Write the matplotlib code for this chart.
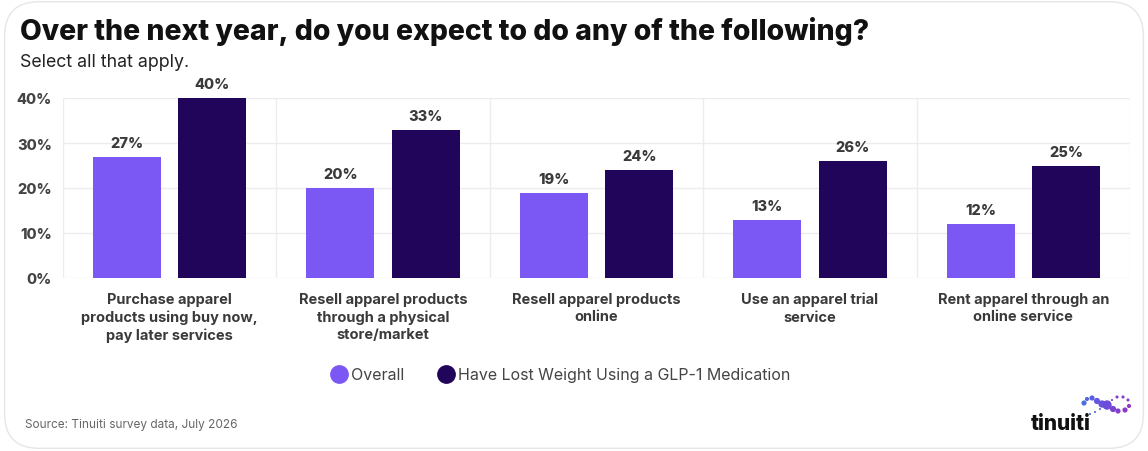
import matplotlib
matplotlib.use("Agg")
import matplotlib.pyplot as plt
import numpy as np
from matplotlib.patches import FancyBboxPatch
from matplotlib.lines import Line2D

categories = [
    "Purchase apparel\nproducts using buy now,\npay later services",
    "Resell apparel products\nthrough a physical\nstore/market",
    "Resell apparel products\nonline",
    "Use an apparel trial\nservice",
    "Rent apparel through an\nonline service",
]
overall = [27, 20, 19, 13, 12]
glp1 = [40, 33, 24, 26, 25]
series_names = ["Overall", "Have Lost Weight Using a GLP-1 Medication"]
yticks = [0, 10, 20, 30, 40]
ytick_labels = ["0%", "10%", "20%", "30%", "40%"]

C_OVERALL = "#7B57F4"
C_GLP = "#21055A"
TXT = "#3a3a3a"

plt.rcParams["font.family"] = ["Inter", "DejaVu Sans"]

W, H = 1148, 452
fig = plt.figure(figsize=(W / 100, H / 100), dpi=100)

# rounded light border
border = FancyBboxPatch((0.004, 0.006), 0.992, 0.988, boxstyle="round,pad=0,rounding_size=0.03",
                        transform=fig.transFigure, facecolor="none", edgecolor="#e6e6e6",
                        linewidth=1.0, mutation_aspect=W / H, zorder=-5)
fig.patches.append(border)

def fx(px):
    return px / W

def fy(py):
    return 1 - py / H

ax = fig.add_axes([fx(63), fy(279), fx(1130) - fx(63), fy(99) - fy(279)])
ax.set_facecolor("none")
x = np.arange(len(categories))
w = 0.318
off = 0.2
b1 = ax.bar(x - off, overall, width=w, color=C_OVERALL, zorder=3)
b2 = ax.bar(x + off, glp1, width=w, color=C_GLP, zorder=3)

for bars, vals in ((b1, overall), (b2, glp1)):
    for b, v in zip(bars, vals):
        ax.annotate(f"{v}%", (b.get_x() + b.get_width() / 2, v), xytext=(0, 5),
                    textcoords="offset points", ha="center", va="bottom",
                    fontsize=10.5, fontweight=800, color=TXT, clip_on=False)

ax.set_xlim(-0.5, len(categories) - 0.5)
ax.set_ylim(0, 40)
ax.set_yticks(yticks)
ax.set_yticklabels(ytick_labels, fontsize=10.5, fontweight=800, color="#444444")
ax.tick_params(axis="y", length=0, pad=8)
ax.set_xticks(x)
ax.set_xticklabels(categories, fontsize=10.5, fontweight="bold", color=TXT, linespacing=1.3)
ax.tick_params(axis="x", length=0, pad=10)
for s in ax.spines.values():
    s.set_visible(False)
for yv in yticks:
    ax.axhline(yv, color="#ececec", lw=1, zorder=1)
for xv in np.arange(-0.5, len(categories) + 0.5, 1):
    ax.axvline(xv, color="#ececec", lw=1, zorder=1)

fig.text(fx(20), fy(31), "Over the next year, do you expect to do any of the following?",
         fontsize=20.4, fontweight=800, color="#111111", va="center", ha="left")
fig.text(fx(20), fy(63), "Select all that apply.", fontsize=12.8, color="#222222",
         va="center", ha="left")

# legend
handles = [Line2D([], [], marker="o", ls="", markersize=12.5, color=C_OVERALL),
           Line2D([], [], marker="o", ls="", markersize=12.5, color=C_GLP)]
fig.legend(handles, series_names, loc="center", bbox_to_anchor=(fx(561), fy(376)),
           ncol=2, frameon=False, fontsize=11.5, handletextpad=0.25, columnspacing=2.1,
           labelcolor="#444444", handlelength=1.0)

fig.text(fx(25), fy(425), "Source: Tinuiti survey data, July 2026", fontsize=8.5,
         color="#666666", va="center", ha="left")

# logo
fig.text(fx(1031), fy(424), "tinuiti", fontsize=15, fontweight=800, color="#111111",
         va="center", ha="left")
dots_x = [1084, 1087, 1092, 1097, 1102, 1107, 1113, 1118, 1125, 1129, 1128, 1123, 1117, 1112, 1100, 1095, 1090]
dots_y = [404, 400, 399, 402, 405, 406, 410, 412, 411, 407, 401, 398, 398, 401, 410, 413, 415]
dots_d = [5, 4, 5, 6, 7, 9, 6, 5, 5, 4, 3, 3, 3, 2, 2, 2, 2]
dots_c = ["#4a6ee0", "#5068e0", "#5a5fe0", "#6458e0", "#6a52de", "#6c4cd8", "#7844d0", "#8240cc",
          "#8c3cc8", "#9238c8", "#8a3acc", "#8a3acc", "#8040cc", "#7846d0", "#5a5fe0", "#5068e0",
          "#4a6ee0"]
ov = fig.add_axes([0, 0, 1, 1], facecolor="none", zorder=5)
ov.set_xlim(0, W)
ov.set_ylim(H, 0)
ov.axis("off")
ov.scatter(dots_x, dots_y, s=[(d * 0.75) ** 2 for d in dots_d], c=dots_c, marker="o", linewidths=0)

fig.savefig("out.png", dpi=100, facecolor="white")
